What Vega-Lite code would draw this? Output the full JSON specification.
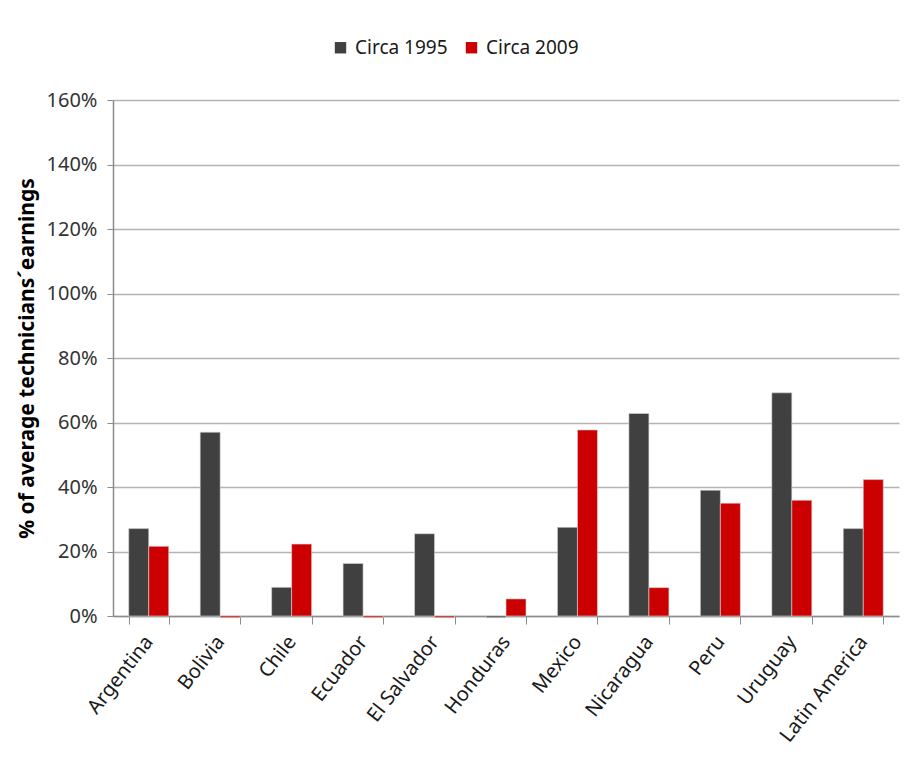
{
  "$schema": "https://vega.github.io/schema/vega-lite/v6.json",
  "width": 786,
  "height": 516,
  "autosize": "none",
  "padding": {"left": 113, "top": 100, "right": 13, "bottom": 156},
  "background": "white",
  "config": {
    "font": "Noto Sans, sans-serif",
    "view": {"stroke": null}
  },
  "data": {
    "values": [
      {"country": "Argentina", "period": "Circa 1995", "share": 0.271},
      {"country": "Argentina", "period": "Circa 2009", "share": 0.216},
      {"country": "Bolivia", "period": "Circa 1995", "share": 0.570},
      {"country": "Bolivia", "period": "Circa 2009", "share": -0.005},
      {"country": "Chile", "period": "Circa 1995", "share": 0.089},
      {"country": "Chile", "period": "Circa 2009", "share": 0.223},
      {"country": "Ecuador", "period": "Circa 1995", "share": 0.163},
      {"country": "Ecuador", "period": "Circa 2009", "share": -0.005},
      {"country": "El Salvador", "period": "Circa 1995", "share": 0.255},
      {"country": "El Salvador", "period": "Circa 2009", "share": -0.005},
      {"country": "Honduras", "period": "Circa 1995", "share": -0.005},
      {"country": "Honduras", "period": "Circa 2009", "share": 0.053},
      {"country": "Mexico", "period": "Circa 1995", "share": 0.275},
      {"country": "Mexico", "period": "Circa 2009", "share": 0.577},
      {"country": "Nicaragua", "period": "Circa 1995", "share": 0.628},
      {"country": "Nicaragua", "period": "Circa 2009", "share": 0.088},
      {"country": "Peru", "period": "Circa 1995", "share": 0.390},
      {"country": "Peru", "period": "Circa 2009", "share": 0.350},
      {"country": "Uruguay", "period": "Circa 1995", "share": 0.692},
      {"country": "Uruguay", "period": "Circa 2009", "share": 0.359},
      {"country": "Latin America", "period": "Circa 1995", "share": 0.271},
      {"country": "Latin America", "period": "Circa 2009", "share": 0.423}
    ]
  },
  "mark": {"type": "bar", "stroke": "#d9d9d9", "strokeWidth": 0.6},
  "encoding": {
    "x": {
      "field": "country",
      "type": "nominal",
      "sort": null,
      "scale": {"paddingInner": 0.44, "paddingOuter": 0.22},
      "axis": {
        "title": null,
        "labelAngle": -52,
        "labelFontSize": 20,
        "labelColor": "#1a1a1a",
        "labelPadding": 14,
        "tickBand": "extent",
        "tickColor": "#8c8c8c",
        "tickSize": 8,
        "domainColor": "#8c8c8c",
        "domainWidth": 1.5,
        "grid": false
      }
    },
    "xOffset": {"field": "period", "type": "nominal", "sort": ["Circa 1995", "Circa 2009"]},
    "y": {
      "field": "share",
      "type": "quantitative",
      "scale": {"domain": [0, 1.6], "nice": false, "clamp": false},
      "axis": {
        "title": "% of average technicians´earnings",
        "titleFontSize": 21,
        "titleFontWeight": "bold",
        "titleColor": "#000000",
        "titlePadding": 9,
        "format": ".0%",
        "values": [0, 0.2, 0.4, 0.6, 0.8, 1.0, 1.2, 1.4, 1.6],
        "labelFontSize": 20,
        "labelColor": "#333333",
        "labelPadding": 10,
        "tickColor": "#8c8c8c",
        "tickSize": 6,
        "domainColor": "#8c8c8c",
        "domainWidth": 1.5,
        "gridColor": "#b3b3b3",
        "gridWidth": 1.5
      }
    },
    "color": {
      "field": "period",
      "type": "nominal",
      "scale": {"domain": ["Circa 1995", "Circa 2009"], "range": ["#404040", "#cc0000"]},
      "legend": {
        "title": null,
        "orient": "none",
        "direction": "horizontal",
        "legendX": 218,
        "legendY": -62,
        "symbolType": "square",
        "symbolSize": 130,
        "symbolStrokeWidth": 0,
        "labelFontSize": 19,
        "labelColor": "#1a1a1a",
        "labelOffset": 5,
        "columnPadding": 14
      }
    }
  }
}
